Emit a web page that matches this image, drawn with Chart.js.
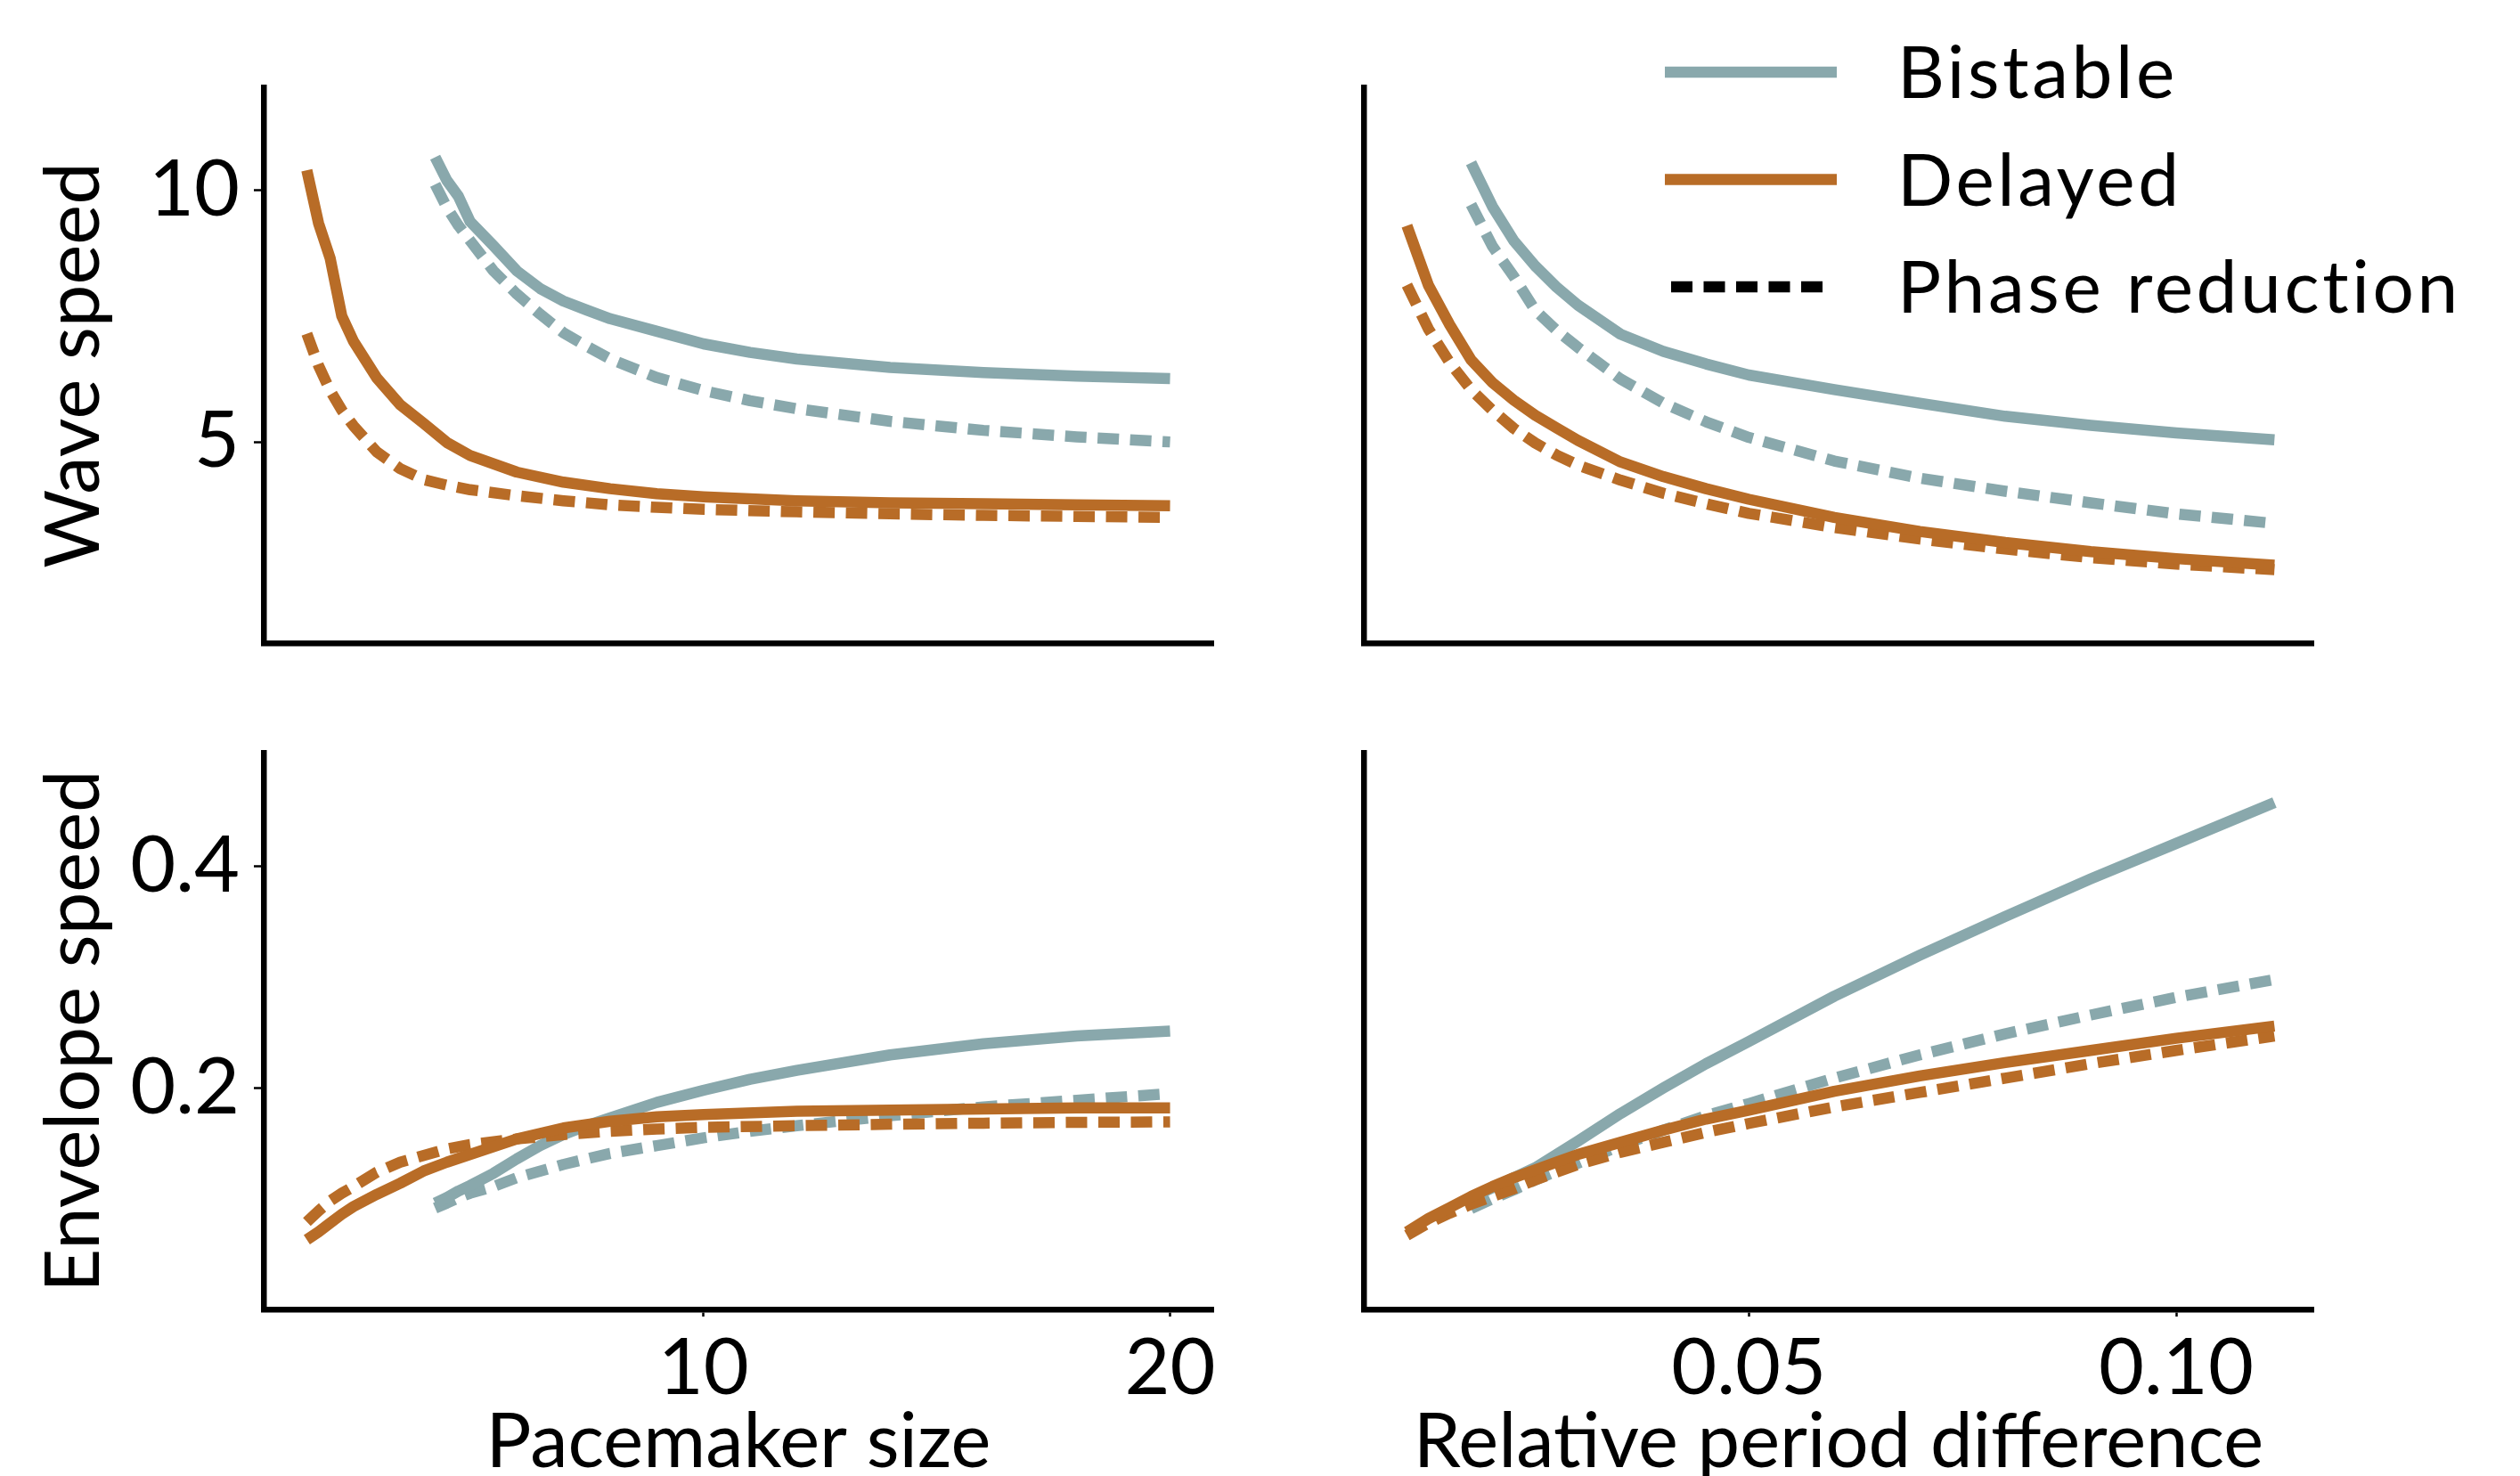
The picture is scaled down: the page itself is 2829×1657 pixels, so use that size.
<!DOCTYPE html>
<html>
<head>
<meta charset="utf-8">
<title>Wave and envelope speed</title>
<script src="https://cdn.jsdelivr.net/npm/chart.js@4.4.1/dist/chart.umd.min.js"></script>
<style>
  html, body { margin: 0; padding: 0; width: 2829px; height: 1657px; overflow: hidden; background: #fff; }
  canvas { position: absolute; }
</style>
</head>
<body>
<canvas id="wave-size" width="1414" height="740" style="left:0;top:0"></canvas>
<canvas id="wave-period" width="1415" height="740" style="left:1414px;top:0"></canvas>
<canvas id="env-size" width="1414" height="920" style="left:0;top:780px"></canvas>
<canvas id="env-period" width="1415" height="920" style="left:1414px;top:780px"></canvas>
<script>
'use strict';

// pacemaker size (left column)
var sizeDelayed = [1.5, 1.75, 2, 2.25, 2.5, 3, 3.5, 4, 4.5, 5, 6, 7, 8, 9, 10, 12, 14, 16, 18, 20];
var sizeBistable = [4.25, 4.5, 4.75, 5, 5.5, 6, 6.5, 7, 7.5, 8, 9, 10, 11, 12, 14, 16, 18, 20];

var waveDelayed = [10.4, 9.35, 8.65, 7.5, 7.0, 6.27, 5.74, 5.37, 4.99, 4.73, 4.40, 4.20, 4.07, 3.97, 3.91, 3.83, 3.79, 3.77, 3.75, 3.73];
var wavePhaseDelayed = [7.15, 6.52, 6.02, 5.63, 5.32, 4.80, 4.47, 4.25, 4.14, 4.05, 3.93, 3.83, 3.75, 3.70, 3.66, 3.61, 3.57, 3.54, 3.52, 3.50];
var waveBistable = [10.66, 10.2, 9.88, 9.38, 8.9, 8.4, 8.05, 7.8, 7.62, 7.45, 7.2, 6.95, 6.78, 6.65, 6.48, 6.38, 6.31, 6.26];
var wavePhaseBistable = [10.12, 9.66, 9.3, 9.0, 8.4, 7.94, 7.54, 7.17, 6.9, 6.65, 6.28, 6.02, 5.82, 5.66, 5.41, 5.23, 5.10, 5.0];

var envDelayed = [0.063, 0.070, 0.078, 0.086, 0.093, 0.104, 0.114, 0.125, 0.133, 0.140, 0.154, 0.164, 0.170, 0.174, 0.176, 0.179, 0.180, 0.181, 0.182, 0.182];
var envPhaseDelayed = [0.079, 0.089, 0.098, 0.105, 0.111, 0.124, 0.133, 0.139, 0.145, 0.149, 0.154, 0.158, 0.161, 0.163, 0.1645, 0.166, 0.1673, 0.1683, 0.169, 0.1695];
var envBistable = [0.096, 0.101, 0.107, 0.112, 0.123, 0.136, 0.148, 0.158, 0.166, 0.173, 0.187, 0.198, 0.208, 0.216, 0.230, 0.240, 0.247, 0.2515];
var envPhaseBistable = [0.0915, 0.096, 0.101, 0.105, 0.111, 0.119, 0.125, 0.131, 0.136, 0.141, 0.148, 0.155, 0.161, 0.166, 0.175, 0.183, 0.189, 0.195];

// relative period difference (right column)
var periodDelayed = [0.01, 0.0125, 0.015, 0.0175, 0.02, 0.0225, 0.025, 0.0275, 0.03, 0.035, 0.04, 0.045, 0.05, 0.06, 0.07, 0.08, 0.09, 0.1, 0.1115];
var periodBistable = [0.0175, 0.02, 0.0225, 0.025, 0.0275, 0.03, 0.035, 0.04, 0.045, 0.05, 0.06, 0.07, 0.08, 0.09, 0.1, 0.1115];

var wavePeriodDelayed = [9.3, 8.12, 7.33, 6.63, 6.18, 5.83, 5.53, 5.28, 5.03, 4.60, 4.31, 4.07, 3.86, 3.50, 3.22, 3.0, 2.82, 2.68, 2.55];
var wavePeriodPhaseDelayed = [8.12, 7.25, 6.58, 6.04, 5.63, 5.27, 4.98, 4.74, 4.54, 4.24, 3.98, 3.77, 3.58, 3.30, 3.07, 2.87, 2.70, 2.57, 2.46];
var wavePeriodBistable = [10.55, 9.68, 9.0, 8.5, 8.08, 7.72, 7.14, 6.80, 6.55, 6.33, 6.04, 5.77, 5.51, 5.33, 5.18, 5.04];
var wavePeriodPhaseBistable = [9.72, 8.89, 8.29, 7.62, 7.22, 6.88, 6.25, 5.77, 5.40, 5.09, 4.62, 4.28, 4.02, 3.79, 3.57, 3.38];

var envPeriodDelayed = [0.070, 0.082, 0.092, 0.102, 0.111, 0.119, 0.126, 0.133, 0.140, 0.151, 0.162, 0.172, 0.180, 0.197, 0.211, 0.223, 0.234, 0.245, 0.256];
var envPeriodPhaseDelayed = [0.067, 0.078, 0.087, 0.095, 0.102, 0.109, 0.117, 0.124, 0.131, 0.142, 0.151, 0.160, 0.168, 0.183, 0.196, 0.209, 0.222, 0.234, 0.247];
var envPeriodBistable = [0.101, 0.110, 0.119, 0.128, 0.140, 0.152, 0.177, 0.200, 0.222, 0.242, 0.283, 0.320, 0.355, 0.389, 0.421, 0.458];
var envPeriodPhaseBistable = [0.091, 0.100, 0.108, 0.117, 0.125, 0.132, 0.148, 0.162, 0.175, 0.186, 0.209, 0.230, 0.249, 0.266, 0.282, 0.298];

// tick labels
var sizeTicks = [10, 20];
var periodTicks = [0.05, 0.10];
var waveTicks = [5, 10];
var envTicks = [0.2, 0.4];

const bistableColor = '#89a8ac';
const delayedColor = '#b86c27';
const dashPattern = [24, 12.5];
const fontFamily = 'Lato, "Open Sans", sans-serif';

function pairs(xs, ys) {
  return xs.map(function(x, i) { return { x: x, y: ys[i] }; });
}

function line(xs, ys, color, dashed) {
  return {
    data: pairs(xs, ys),
    borderColor: color,
    borderWidth: 12.5,
    borderDash: dashed ? dashPattern : [],
    borderCapStyle: 'butt',
    borderJoinStyle: 'round',
    pointRadius: 0,
    tension: 0,
    fill: false
  };
}

//delayed datasets first so they are painted on top
function datasets(xD, yD, yDp, xB, yB, yBp) {
  return [
    line(xD, yD, delayedColor, false),
    line(xD, yDp, delayedColor, true),
    line(xB, yB, bistableColor, false),
    line(xB, yBp, bistableColor, true)
  ];
}

function fixedTicks(values) {
  return function(scale) {
    scale.ticks = values.map(function(v) { return { value: v }; });
  };
}

function xAxis(min, max, values, decimals, title, height) {
  var show = title !== null;
  return {
    type: 'linear',
    min: min,
    max: max,
    afterBuildTicks: fixedTicks(values),
    afterFit: function(scale) {
      scale.height = height;
      scale.paddingLeft = 0;
      scale.paddingRight = 0;
    },
    border: { display: true, color: '#000', width: 6.5 },
    grid: { display: show, drawOnChartArea: false, drawTicks: true, tickLength: 8, tickWidth: 2.5, tickColor: '#000' },
    ticks: {
      display: show,
      color: '#000',
      padding: 6,
      maxRotation: 0,
      autoSkip: false,
      font: { family: fontFamily, size: 88 },
      callback: function(v) { return v.toFixed(decimals); }
    },
    title: {
      display: show,
      text: title || '',
      color: '#000',
      font: { family: fontFamily, size: 85 },
      padding: { top: 0, bottom: 29 }
    }
  };
}

function yAxis(min, max, values, decimals, title, width) {
  var show = title !== null;
  return {
    type: 'linear',
    min: min,
    max: max,
    afterBuildTicks: fixedTicks(values),
    afterFit: function(scale) {
      scale.width = width;
      scale.paddingTop = 0;
      scale.paddingBottom = 0;
    },
    border: { display: true, color: '#000', width: 6.5 },
    grid: { display: show, drawOnChartArea: false, drawTicks: true, tickLength: 11, tickWidth: 2.5, tickColor: '#000' },
    ticks: {
      display: show,
      color: '#000',
      padding: 16,
      font: { family: fontFamily, size: 88 },
      callback: function(v) { return v.toFixed(decimals); }
    },
    title: {
      display: show,
      text: title || '',
      color: '#000',
      font: { family: fontFamily, size: 85 },
      padding: { top: 33, bottom: 0 }
    }
  };
}

//legend in the upper right corner of the wave speed / period panel
var legendPlugin = {
  id: 'cornerLegend',
  afterDraw: function(chart) {
    var ctx = chart.ctx;
    var items = [
      { text: 'Bistable', color: bistableColor, dash: [], x0: 455, x1: 648 },
      { text: 'Delayed', color: delayedColor, dash: [], x0: 455, x1: 648 },
      { text: 'Phase reduction', color: '#000', dash: dashPattern, x0: 462, x1: 632 }
    ];
    ctx.save();
    items.forEach(function(item, i) {
      var y = 81 + i * 120.5;
      ctx.beginPath();
      ctx.setLineDash(item.dash);
      ctx.lineWidth = 12.7;
      ctx.lineCap = 'butt';
      ctx.strokeStyle = item.color;
      ctx.moveTo(item.x0, y);
      ctx.lineTo(item.x1, y);
      ctx.stroke();
      ctx.setLineDash([]);
      ctx.fillStyle = '#000';
      ctx.font = '82px ' + fontFamily;
      ctx.letterSpacing = '3.6px';
      ctx.textAlign = 'left';
      ctx.textBaseline = 'alphabetic';
      ctx.fillText(item.text, 716, y + 29);
    });
    ctx.restore();
  }
};

function makeChart(id, sets, scales, padding, plugins) {
  var ctx = document.getElementById(id).getContext('2d');
  return new Chart(ctx, {
    type: 'line',
    data: { datasets: sets },
    options: {
      responsive: false,
      animation: false,
      devicePixelRatio: 1,
      layout: { padding: padding },
      plugins: { legend: { display: false }, tooltip: { enabled: false } },
      scales: scales
    },
    plugins: plugins || []
  });
}

var sizeMin = 0.575, sizeMax = 20.925;
var periodMin = 0.00495, periodMax = 0.11605;

makeChart('wave-size',
  datasets(sizeDelayed, waveDelayed, wavePhaseDelayed, sizeBistable, waveBistable, wavePhaseBistable),
  { x: xAxis(sizeMin, sizeMax, sizeTicks, 0, null, 18), y: yAxis(1, 12.05, waveTicks, 0, 'Wave speed', 296) },
  { top: 98, right: 52, left: 0, bottom: 0 });

makeChart('wave-period',
  datasets(periodDelayed, wavePeriodDelayed, wavePeriodPhaseDelayed, periodBistable, wavePeriodBistable, wavePeriodPhaseBistable),
  { x: xAxis(periodMin, periodMax, periodTicks, 2, null, 18), y: yAxis(1, 12.05, waveTicks, 0, null, 117) },
  { top: 98, right: 232, left: 0, bottom: 0 },
  [legendPlugin]);

makeChart('env-size',
  datasets(sizeDelayed, envDelayed, envPhaseDelayed, sizeBistable, envBistable, envPhaseBistable),
  { x: xAxis(sizeMin, sizeMax, sizeTicks, 0, 'Pacemaker size', 230), y: yAxis(0, 0.503, envTicks, 1, 'Envelope speed', 296) },
  { top: 65, right: 52, left: 0, bottom: 0 });

makeChart('env-period',
  datasets(periodDelayed, envPeriodDelayed, envPeriodPhaseDelayed, periodBistable, envPeriodBistable, envPeriodPhaseBistable),
  { x: xAxis(periodMin, periodMax, periodTicks, 2, 'Relative period difference', 230), y: yAxis(0, 0.503, envTicks, 1, null, 117) },
  { top: 65, right: 232, left: 0, bottom: 0 });
</script>
</body>
</html>
